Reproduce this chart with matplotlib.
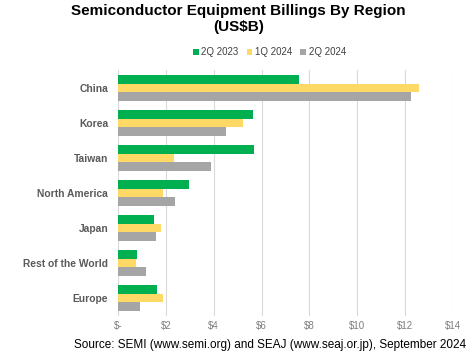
import matplotlib.pyplot as plt
import numpy as np

regions = ['China', 'Korea', 'Taiwan', 'North America', 'Japan', 'Rest of the World', 'Europe']
q2_2023 = [7.56, 5.64, 5.70, 2.95, 1.51, 0.81, 1.62]
q1_2024 = [12.56, 5.21, 2.32, 1.87, 1.80, 0.75, 1.87]
q2_2024 = [12.24, 4.53, 3.88, 2.39, 1.59, 1.17, 0.92]
series = ['2Q 2023', '1Q 2024', '2Q 2024']
colors = ['#00B050', '#FFD966', '#A5A5A5']
xticks = [0, 2, 4, 6, 8, 10, 12, 14]
xlabels = ['$-', '$2', '$4', '$6', '$8', '$10', '$12', '$14']

plt.rcParams['font.family'] = ['Liberation Sans', 'DejaVu Sans']

fig = plt.figure(figsize=(4.77, 3.53), dpi=100)
ax = fig.add_axes([0.2474, 0.1062, 0.7023, 0.6941])

y = np.arange(len(regions))
h = 0.245
for i, (vals, name, c) in enumerate(zip([q2_2023, q1_2024, q2_2024], series, colors)):
    ax.barh(y + (i - 1) * h, vals, height=h, color=c, label=name, zorder=3)

ax.set_ylim(len(regions) - 0.5, -0.5)
ax.set_xlim(0, 14)
ax.set_xticks(xticks)
ax.set_xticklabels(xlabels, color='#7f7f7f', fontsize=7)
ax.set_yticks(y)
ax.set_yticklabels(regions, color='#595959', fontsize=7.4, fontweight='bold')
ax.tick_params(axis='both', length=0)
ax.tick_params(axis='x', pad=4)
ax.tick_params(axis='y', pad=7)
ax.grid(axis='x', color='#d9d9d9', linewidth=0.8, zorder=0)
for s in ax.spines.values():
    s.set_visible(False)

fig.text(0.5, 0.988, 'Semiconductor Equipment Billings By Region\n(US$B)',
         ha='center', va='top', fontsize=11, fontweight='bold', color='#000000',
         linespacing=1.2)
fig.legend(loc='center', bbox_to_anchor=(0.565, 0.852), ncol=3, frameon=False,
           fontsize=7, handlelength=0.6, handleheight=0.6, handletextpad=0.3,
           columnspacing=0.8, labelcolor='#404040')
fig.text(0.566, 0.024, 'Source: SEMI (www.semi.org) and SEAJ (www.seaj.or.jp), September 2024',
         ha='center', va='center', fontsize=8.5, color='#000000')

fig.savefig('out.png', dpi=100, facecolor='white')
